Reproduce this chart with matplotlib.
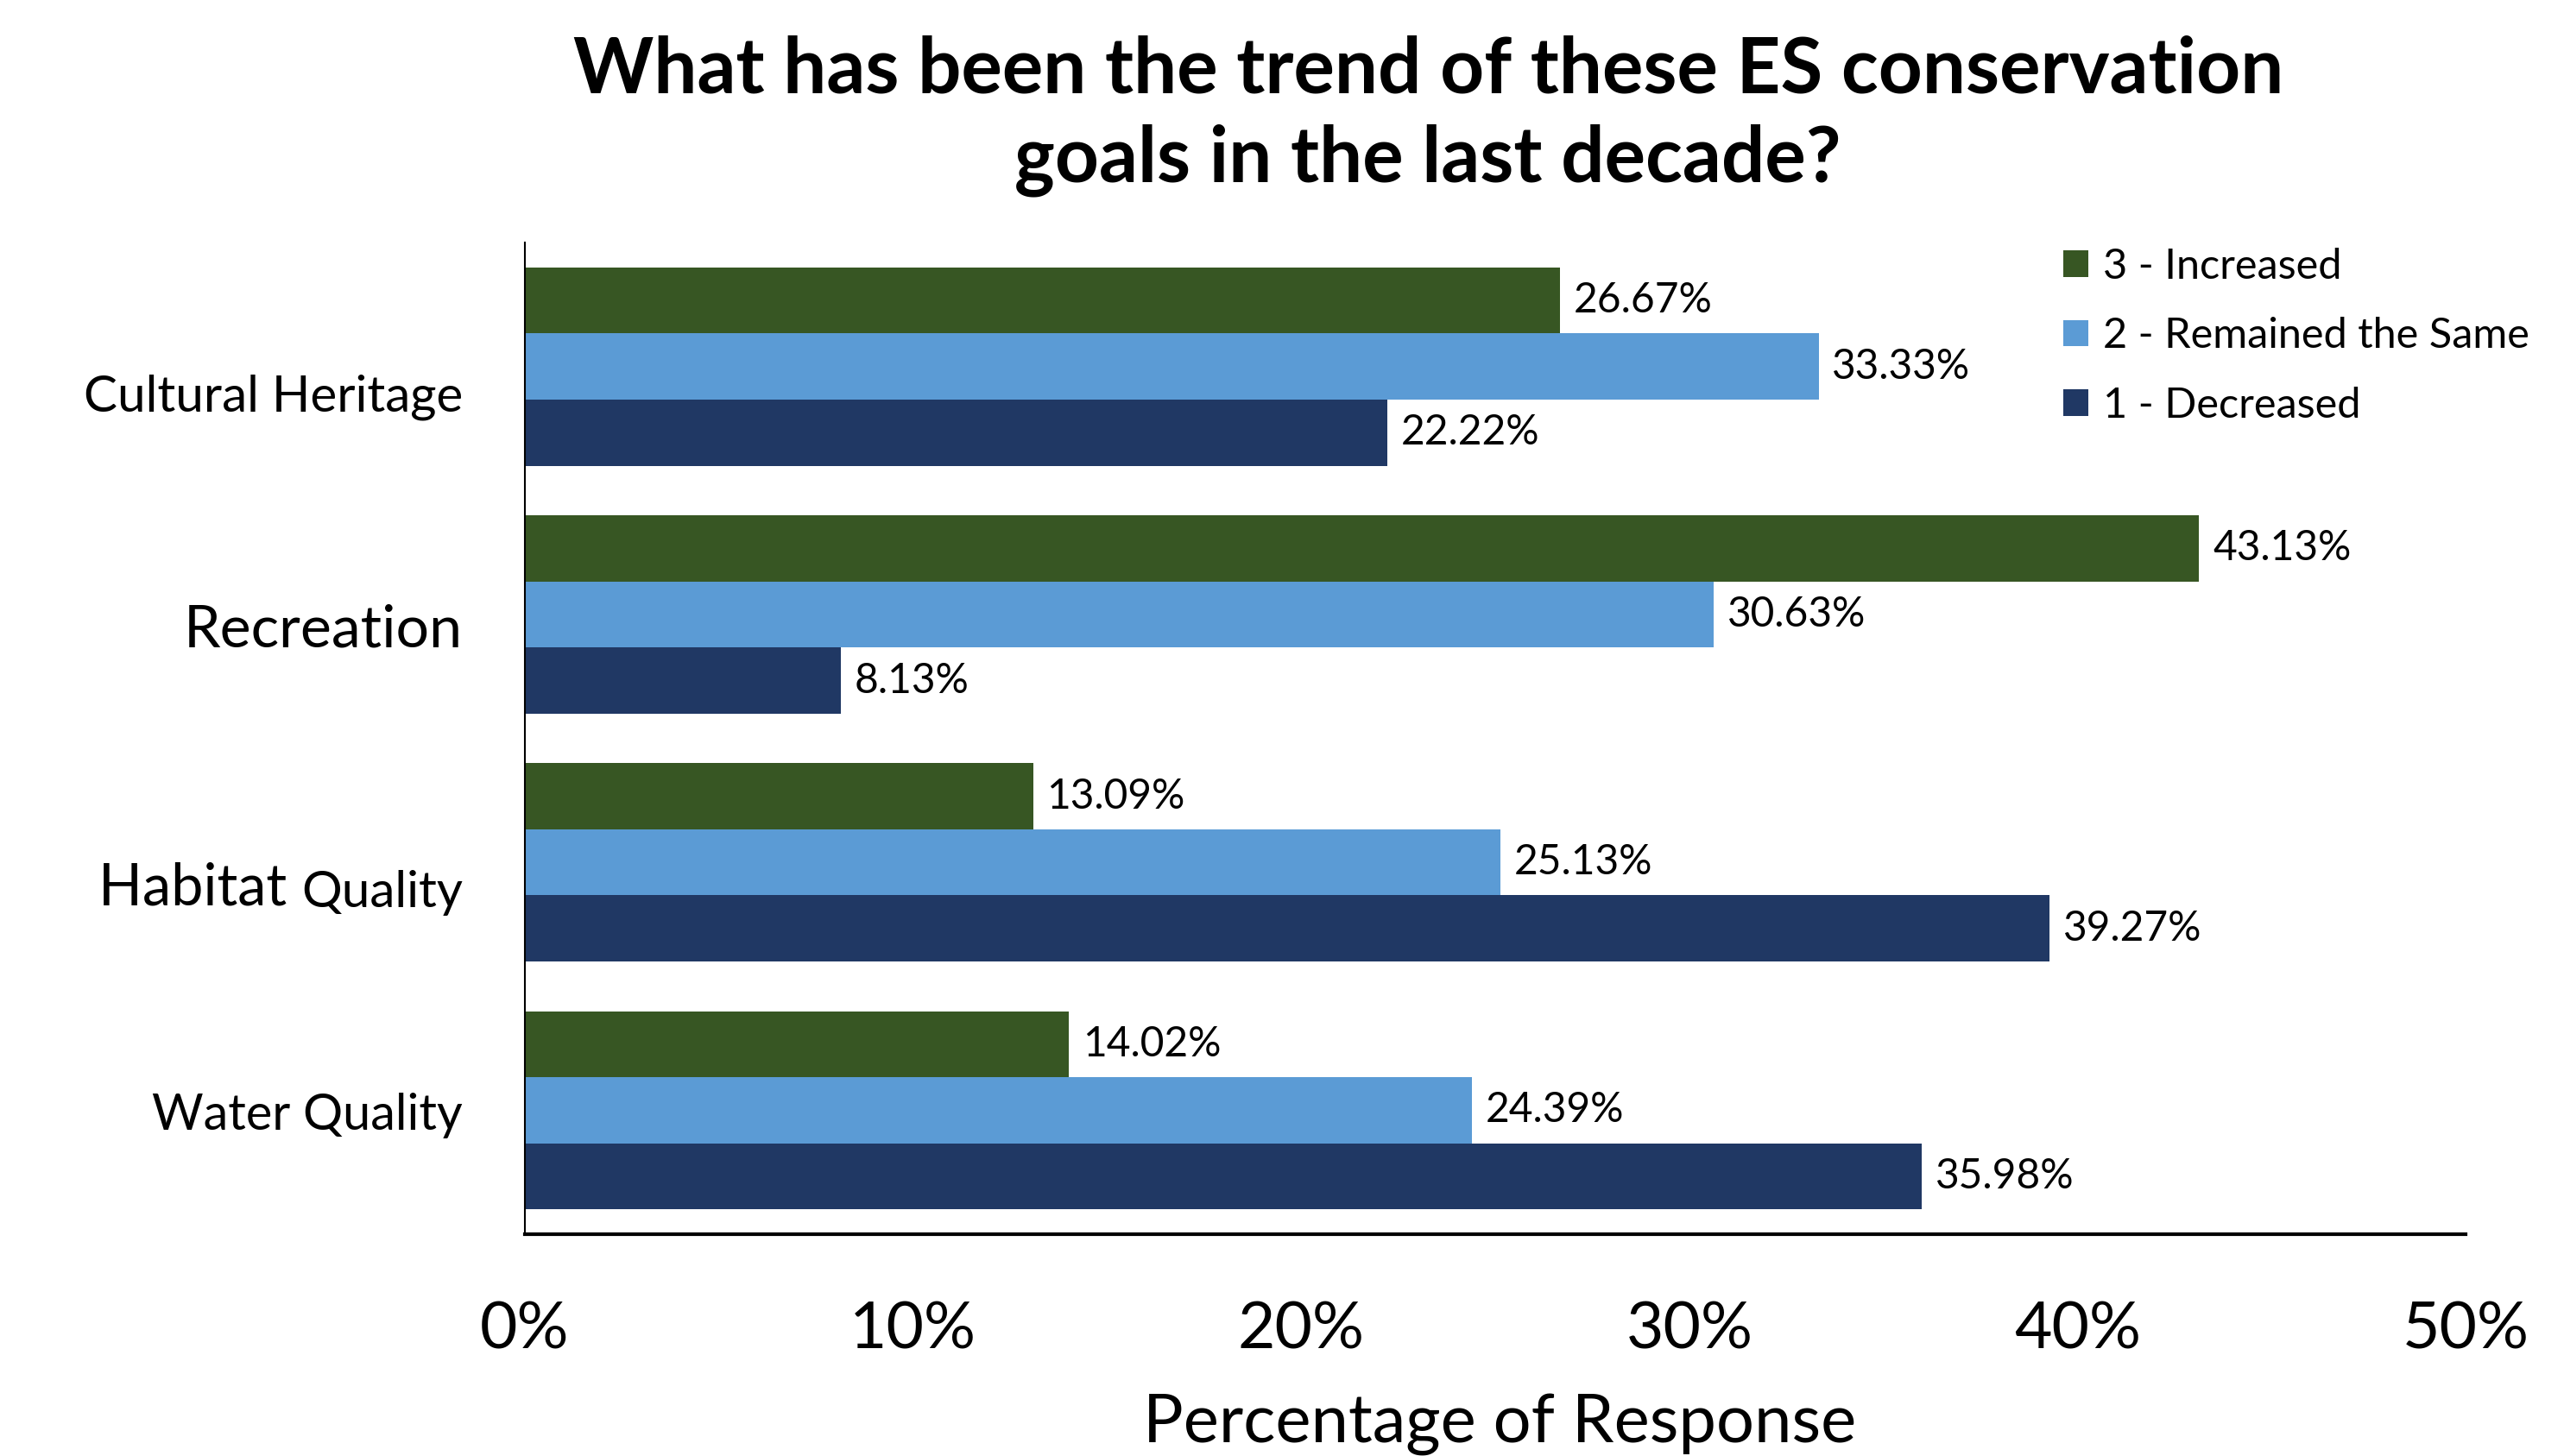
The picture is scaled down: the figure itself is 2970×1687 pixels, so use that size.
import numpy as np
import matplotlib.pyplot as plt

plt.rcParams['font.family'] = ['Lato', 'DejaVu Sans']

# bottom to top
categories = ['Water Quality', 'Habitat Quality', 'Recreation', 'Cultural Heritage']
increased = [14.02, 13.09, 43.13, 26.67]
same = [24.39, 25.13, 30.63, 33.33]
decreased = [35.98, 39.27, 8.13, 22.22]
series_names = ['3 - Increased', '2 - Remained the Same', '1 - Decreased']
colors = ['#375623', '#5B9BD5', '#203864']
xticks = [0, 10, 20, 30, 40, 50]

fig = plt.figure(figsize=(29.7, 16.87), dpi=100)
ax = fig.add_axes([0.2047, 0.1523, 0.757, 0.6811])

y = np.arange(len(categories))
h = 1 / 3.75
for vals, off, col, name in zip([increased, same, decreased], [h, 0, -h], colors, series_names):
    bars = ax.barh(y + off, vals, height=h, color=col, label=name)
    for b, v in zip(bars, vals):
        ax.text(v + 0.35, b.get_y() + h / 2, f'{v:.2f}%', va='center', ha='left', fontsize=34.5)

ax.set_xlim(0, 50)
ax.set_ylim(-0.5, 3.5)
ax.set_xticks(xticks)
ax.set_xticklabels([f'{t}%' for t in xticks], fontsize=54)
ax.tick_params(axis='x', length=0, pad=55)
ax.set_yticks([])
for s in ['top', 'right']:
    ax.spines[s].set_visible(False)
ax.spines['left'].set_linewidth(1.5)
ax.spines['bottom'].set_linewidth(3)

# category labels (baseline offsets below group centre)
label_dy = [0.08, 0.18, 0.13, 0.18]
label_size = [41.5, 48, 49, 42]
for yi, name, dy, fs in zip(y, categories, label_dy, label_size):
    if name == 'Habitat Quality':
        t = ax.text(-1.6, yi - dy, 'Quality', ha='right', va='baseline', fontsize=42)
        ax.annotate('Habitat ', xy=(0, 0), xycoords=t, xytext=(0, 0), textcoords='offset points',
                    ha='right', va='bottom', fontsize=fs, annotation_clip=False)
    else:
        ax.text(-1.6, yi - dy, name, ha='right', va='baseline', fontsize=fs)

fig.text(0.557, 0.976, 'What has been the trend of these ES conservation\ngoals in the last decade?',
         ha='center', va='top', fontsize=64, fontweight='bold', linespacing=1.32)
fig.text(0.585, 0.022, 'Percentage of Response', ha='center', va='center', fontsize=56)

ax.legend(loc='upper left', bbox_to_anchor=(0.79, 0.856), bbox_transform=fig.transFigure,
          fontsize=35, frameon=False, handlelength=0.6, handleheight=0.6,
          handletextpad=0.35, labelspacing=0.75)

fig.savefig('out.png', dpi=100)
